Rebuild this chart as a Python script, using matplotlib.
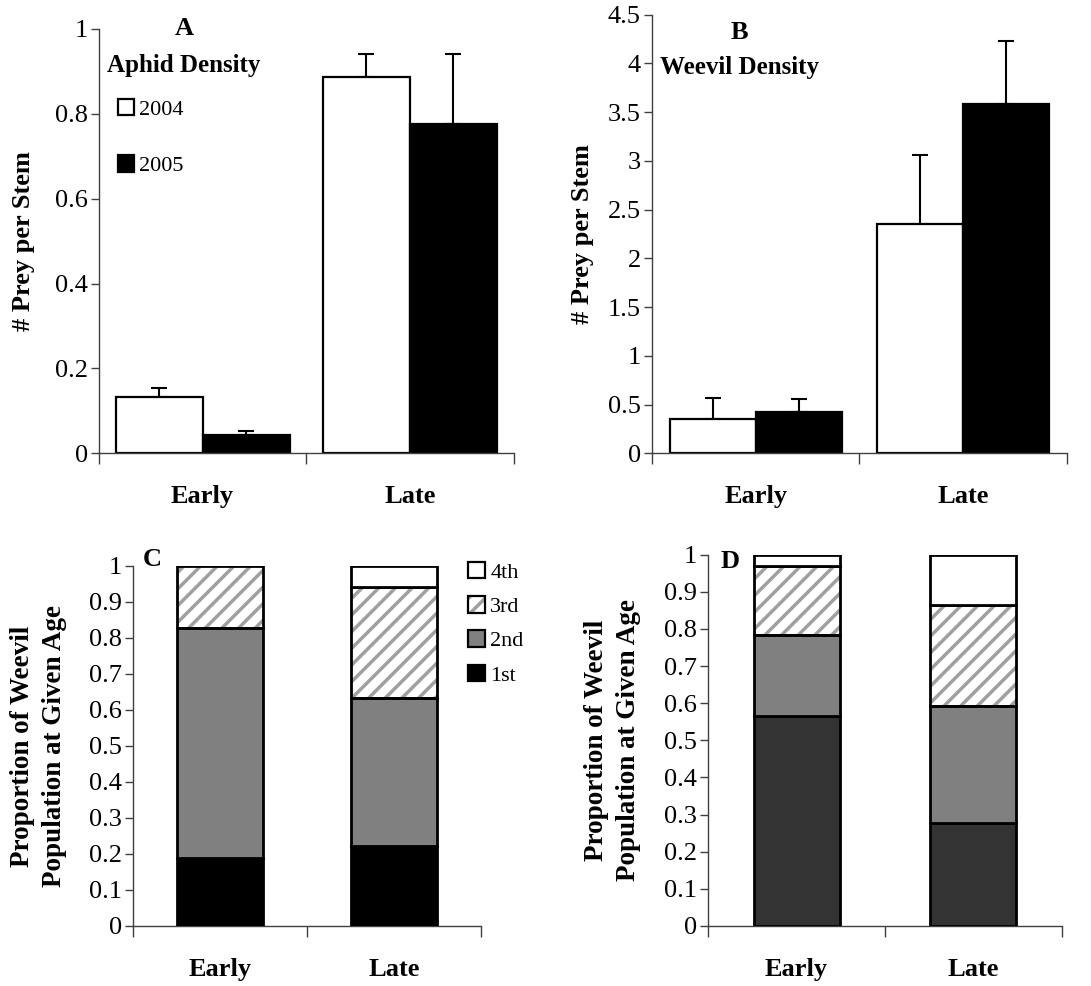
import numpy as np
import matplotlib
matplotlib.use("Agg")
import matplotlib.pyplot as plt
from matplotlib.patches import Patch

plt.rcParams['font.family'] = ['Liberation Serif', 'DejaVu Serif']
plt.rcParams['hatch.linewidth'] = 2.5

# ---- data ----
seasons = ["Early", "Late"]
years = ["2004", "2005"]

aphid_2004 = [0.133, 0.887]
aphid_2004_se = [0.020, 0.053]
aphid_2005 = [0.043, 0.776]
aphid_2005_se = [0.009, 0.166]

weevil_2004 = [0.352, 2.350]
weevil_2004_se = [0.218, 0.706]
weevil_2005 = [0.424, 3.586]
weevil_2005_se = [0.133, 0.644]

stages = ["1st", "2nd", "3rd", "4th"]
# proportion of weevil population at each instar (Early, Late)
stage_c = {"1st": [0.190, 0.222], "2nd": [0.639, 0.411], "3rd": [0.171, 0.308], "4th": [0.000, 0.059]}
stage_d = {"1st": [0.566, 0.278], "2nd": [0.218, 0.315], "3rd": [0.186, 0.272], "4th": [0.030, 0.135]}

FS = 19
LFS = 16
LW = 1.6
SPINE = '#404040'

fig = plt.figure(figsize=(10.91, 9.86), dpi=100)
axA = fig.add_axes([0.0907, 0.5403, 0.380, 0.4303])
axB = fig.add_axes([0.5976, 0.5403, 0.380, 0.4448])
axC = fig.add_axes([0.1219, 0.0609, 0.319, 0.3651])
axD = fig.add_axes([0.6492, 0.0609, 0.3239, 0.3766])


def style_axes(ax, ylim, yticks, yfmt):
    ax.set_xlim(0, 2)
    ax.set_ylim(*ylim)
    for s in ['top', 'right']:
        ax.spines[s].set_visible(False)
    for s in ['left', 'bottom']:
        ax.spines[s].set_color(SPINE)
        ax.spines[s].set_linewidth(1.0)
    ax.set_yticks(yticks)
    ax.set_yticklabels([yfmt(v) for v in yticks], fontsize=FS)
    ax.tick_params(axis='y', direction='out', length=6, width=1, color=SPINE, pad=2)
    ax.set_xticks([0, 1, 2])
    ax.set_xticklabels([])
    ax.tick_params(axis='x', which='major', direction='out', length=8, width=1, color=SPINE)
    ax.set_xticks([0.5, 1.5], minor=True)
    ax.set_xticklabels(seasons, minor=True, fontsize=FS, fontweight='bold')
    ax.tick_params(axis='x', which='minor', length=0, pad=23)


def fmt_num(v):
    s = f"{v:.1f}"
    if s.endswith(".0"):
        s = s[:-2]
    return s


def grouped(ax, v04, e04, v05, e05, w):
    x = np.arange(len(seasons)) + 0.5
    ax.bar(x - w / 2, v04, width=w, color='white', edgecolor='black', linewidth=LW, zorder=2, label=years[0])
    ax.bar(x + w / 2, v05, width=w, color='black', edgecolor='black', linewidth=LW, zorder=2, label=years[1])
    ax.errorbar(x - w / 2, v04, yerr=[np.zeros(len(v04)), e04], fmt='none', ecolor='black',
                elinewidth=1.5, capsize=5.5, capthick=1.5, zorder=1)
    ax.errorbar(x + w / 2, v05, yerr=[np.zeros(len(v05)), e05], fmt='none', ecolor='black',
                elinewidth=1.5, capsize=5.5, capthick=1.5, zorder=1)


# ---- A ----
style_axes(axA, (0, 1), np.arange(0, 1.01, 0.2), fmt_num)
grouped(axA, aphid_2004, aphid_2004_se, aphid_2005, aphid_2005_se, 0.42)
axA.set_ylabel("# Prey per Stem", fontsize=FS, fontweight='bold')
axA.yaxis.set_label_coords(-0.155, 0.5)
axA.text(0.41, 1.0, "A", fontsize=FS, fontweight='bold', ha='center', va='center')
axA.text(0.41, 0.915, "Aphid Density", fontsize=FS - 1, fontweight='bold', ha='center', va='center')
axA.legend(loc='upper left', bbox_to_anchor=(0.045, 0.835), frameon=False, fontsize=LFS,
           handlelength=0.75, handleheight=0.75, handletextpad=0.2, labelspacing=1.6,
           borderpad=0, borderaxespad=0)

# ---- B ----
style_axes(axB, (0, 4.5), np.arange(0, 4.51, 0.5), fmt_num)
grouped(axB, weevil_2004, weevil_2004_se, weevil_2005, weevil_2005_se, 0.415)
axB.set_ylabel("# Prey per Stem", fontsize=FS, fontweight='bold')
axB.yaxis.set_label_coords(-0.14, 0.5)
axB.text(0.424, 4.32, "B", fontsize=FS, fontweight='bold', ha='center', va='center')
axB.text(0.424, 3.96, "Weevil Density", fontsize=FS - 1, fontweight='bold', ha='center', va='center')

# ---- C / D stacked ----
fills_c = {"1st": 'black', "2nd": '#808080', "3rd": 'white', "4th": 'white'}
fills_d = {"1st": '#333333', "2nd": '#808080', "3rd": 'white', "4th": 'white'}


def stacked(ax, data, fills, w):
    x = np.arange(len(seasons)) + 0.5
    bottom = np.zeros(len(seasons))
    for st in stages:
        vals = np.array(data[st])
        if st == "3rd":
            ax.bar(x, vals, width=w, bottom=bottom, color='white', edgecolor='#a0a0a0',
                   hatch='//', linewidth=0, zorder=2)
            ax.bar(x, vals, width=w, bottom=bottom, fill=False, edgecolor='black',
                   linewidth=LW + 0.4, zorder=3)
        else:
            keep = vals > 0
            ax.bar(x[keep], vals[keep], width=w, bottom=bottom[keep], color=fills[st],
                   edgecolor='black', linewidth=LW + 0.4, zorder=3)
        bottom = bottom + vals


style_axes(axC, (0, 1), np.arange(0, 1.01, 0.1), fmt_num)
stacked(axC, stage_c, fills_c, 0.49)
axC.set_ylabel("Proportion of Weevil\nPopulation at Given Age", fontsize=FS + 0.5, fontweight='bold',
               linespacing=1.35)
axC.yaxis.set_label_coords(-0.19, 0.5)
axC.text(0.055, 1.017, "C", transform=axC.transAxes, fontsize=FS, fontweight='bold',
         ha='center', va='center')

style_axes(axD, (0, 1), np.arange(0, 1.01, 0.1), fmt_num)
stacked(axD, stage_d, fills_d, 0.487)
axD.set_ylabel("Proportion of Weevil\nPopulation at Given Age", fontsize=FS + 0.5, fontweight='bold',
               linespacing=1.4)
axD.yaxis.set_label_coords(-0.19, 0.5)
axD.text(0.061, 0.981, "D", transform=axD.transAxes, fontsize=FS, fontweight='bold',
         ha='center', va='center')

# legend for instars (panel C)
handles = [
    Patch(facecolor='white', edgecolor='black', linewidth=LW),
    (Patch(facecolor='white', edgecolor='#a0a0a0', hatch='//', linewidth=0),
     Patch(fill=False, edgecolor='black', linewidth=LW)),
    Patch(facecolor='#808080', edgecolor='black', linewidth=LW),
    Patch(facecolor='black', edgecolor='black', linewidth=LW),
]
labels = ["4th", "3rd", "2nd", "1st"]
fig.legend(handles, labels, loc='upper left', bbox_to_anchor=(0.429, 0.43), frameon=False,
           fontsize=LFS, handlelength=0.75, handleheight=0.75, handletextpad=0.25,
           labelspacing=0.6, borderpad=0, borderaxespad=0)

fig.savefig("out.png", dpi=100)
